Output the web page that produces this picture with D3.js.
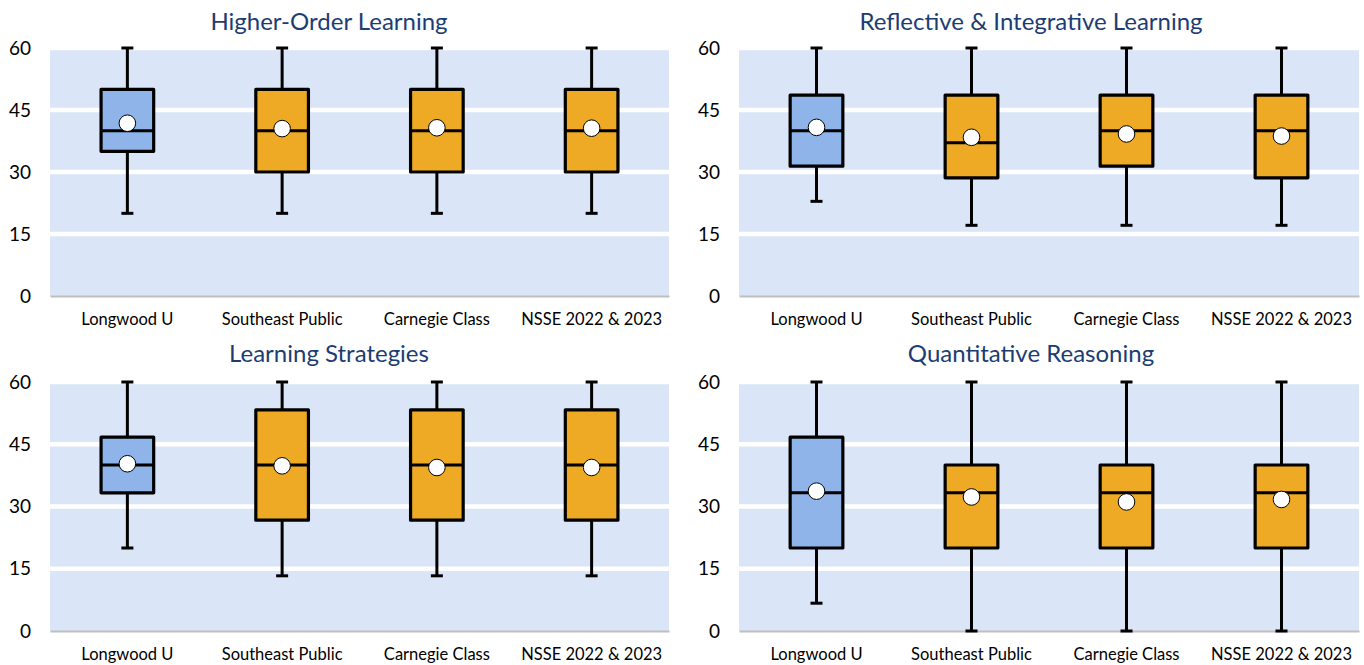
<!DOCTYPE html>
<html>
<head>
<meta charset="utf-8">
<script src="https://cdn.jsdelivr.net/npm/d3@7"></script>
<style>
  html, body { margin: 0; padding: 0; background: #fff; }
  svg { display: block; }
  text { font-family: Lato, "Open Sans", sans-serif; }
</style>
</head>
<body>
<svg id="chart" width="1364" height="665"></svg>
<script>
// ---------- data ----------
const categories = ["Longwood U", "Southeast Public", "Carnegie Class", "NSSE 2022 & 2023"];
const yTicks = [0, 15, 30, 45, 60];
const panelTitles = ["Higher-Order Learning", "Reflective & Integrative Learning", "Learning Strategies", "Quantitative Reasoning"];

// each row: [whisker low, Q1, median, Q3, whisker high, mean]
const higherOrder = [
  [20, 35, 40, 50, 60, 41.8],
  [20, 30, 40, 50, 60, 40.5],
  [20, 30, 40, 50, 60, 40.7],
  [20, 30, 40, 50, 60, 40.6]
];
const reflective = [
  [22.9, 31.4, 40.0, 48.6, 60, 40.8],
  [17.1, 28.6, 37.1, 48.6, 60, 38.4],
  [17.1, 31.4, 40.0, 48.6, 60, 39.2],
  [17.1, 28.6, 40.0, 48.6, 60, 38.7]
];
const learningStrategies = [
  [20.0, 33.3, 40.0, 46.7, 60, 40.3],
  [13.3, 26.7, 40.0, 53.3, 60, 39.8],
  [13.3, 26.7, 40.0, 53.3, 60, 39.4],
  [13.3, 26.7, 40.0, 53.3, 60, 39.4]
];
const quantitative = [
  [6.7, 20.0, 33.3, 46.7, 60, 33.7],
  [0.0, 20.0, 33.3, 40.0, 60, 32.3],
  [0.0, 20.0, 33.3, 40.0, 60, 31.1],
  [0.0, 20.0, 33.3, 40.0, 60, 31.7]
];
const panelData = [higherOrder, reflective, learningStrategies, quantitative];

// ---------- layout ----------
const panels = [
  {x0: 50,  x1: 669,  yTop: 48,  yBot: 296, titleX: 329,  titleY: 20},
  {x0: 739, x1: 1359, yTop: 48,  yBot: 296, titleX: 1031, titleY: 20},
  {x0: 50,  x1: 669,  yTop: 382, yBot: 631, titleX: 329,  titleY: 352},
  {x0: 739, x1: 1359, yTop: 382, yBot: 631, titleX: 1031, titleY: 352}
];
const boxColors = ["#8EB4EA", "#EEAA25", "#EEAA25", "#EEAA25"];

const svg = d3.select("#chart");

panels.forEach((p, pi) => {
  const data = panelData[pi];
  const x = d3.scaleBand().domain(categories).range([p.x0, p.x1]).paddingInner(0).paddingOuter(0);
  const y = d3.scaleLinear().domain([0, 60]).range([p.yBot, p.yTop]);
  const g = svg.append("g");

  // plot background
  g.append("rect")
    .attr("x", p.x0).attr("y", y(60))
    .attr("width", p.x1 - p.x0).attr("height", y(0) - y(60))
    .attr("fill", "#DAE5F7");

  // white gridlines
  g.selectAll("line.grid").data(yTicks.filter(t => t > 0)).enter().append("line")
    .attr("x1", p.x0).attr("x2", p.x1)
    .attr("y1", d => y(d)).attr("y2", d => y(d))
    .attr("stroke", "#fff").attr("stroke-width", 4.5);

  // y axis (labels only)
  const yAxis = d3.axisLeft(y).tickValues(yTicks).tickSize(0).tickPadding(0).tickFormat(d3.format("d"));
  const ya = g.append("g").attr("transform", `translate(${p.x0 - 19},0)`).call(yAxis);
  ya.select(".domain").remove();
  ya.selectAll("text").attr("font-size", 19).attr("fill", "#000")
    .attr("font-family", "Lato, 'Open Sans', sans-serif");

  // x axis
  const xAxis = d3.axisBottom(x).tickSize(0).tickPadding(0);
  const xa = g.append("g").attr("transform", `translate(0,${y(0)})`).call(xAxis);
  xa.select(".domain").attr("stroke", "#BFBFBF").attr("stroke-width", 2);
  xa.selectAll("text").attr("font-size", 16.5).attr("fill", "#000")
    .attr("dy", 0).attr("y", 29)
    .attr("font-family", "Lato, 'Open Sans', sans-serif");

  // boxes
  const bw = x.bandwidth() * 0.34;
  const capW = 12;
  const box = g.selectAll("g.box").data(data).enter().append("g")
    .attr("transform", (d, i) => `translate(${x(categories[i]) + x.bandwidth() / 2},0)`);

  // whiskers
  box.append("line").attr("x1", 0).attr("x2", 0)
    .attr("y1", d => y(d[4])).attr("y2", d => y(d[3]))
    .attr("stroke", "#000").attr("stroke-width", 3);
  box.append("line").attr("x1", 0).attr("x2", 0)
    .attr("y1", d => y(d[1])).attr("y2", d => y(d[0]))
    .attr("stroke", "#000").attr("stroke-width", 3);
  // caps
  box.append("line").attr("x1", -capW / 2).attr("x2", capW / 2)
    .attr("y1", d => y(d[4])).attr("y2", d => y(d[4]))
    .attr("stroke", "#000").attr("stroke-width", 3);
  box.append("line").attr("x1", -capW / 2).attr("x2", capW / 2)
    .attr("y1", d => y(d[0])).attr("y2", d => y(d[0]))
    .attr("stroke", "#000").attr("stroke-width", 3);
  // box
  box.append("rect")
    .attr("x", -bw / 2).attr("width", bw)
    .attr("y", d => y(d[3])).attr("height", d => y(d[1]) - y(d[3]))
    .attr("fill", (d, i) => boxColors[i])
    .attr("stroke", "#000").attr("stroke-width", 3.2).attr("stroke-linejoin", "round");
  // median
  box.append("line").attr("x1", -bw / 2).attr("x2", bw / 2)
    .attr("y1", d => y(d[2])).attr("y2", d => y(d[2]))
    .attr("stroke", "#000").attr("stroke-width", 3);
  // mean
  box.append("circle").attr("cx", 0).attr("cy", d => y(d[5])).attr("r", 8.3)
    .attr("fill", "#fff").attr("stroke", "#000").attr("stroke-width", 1);

  // title
  svg.append("text")
    .attr("x", p.titleX).attr("y", p.titleY)
    .attr("text-anchor", "middle").attr("dominant-baseline", "central")
    .attr("font-size", 24).attr("fill", "#1C3D73")
    .text(panelTitles[pi]);
});
</script>
</body>
</html>
